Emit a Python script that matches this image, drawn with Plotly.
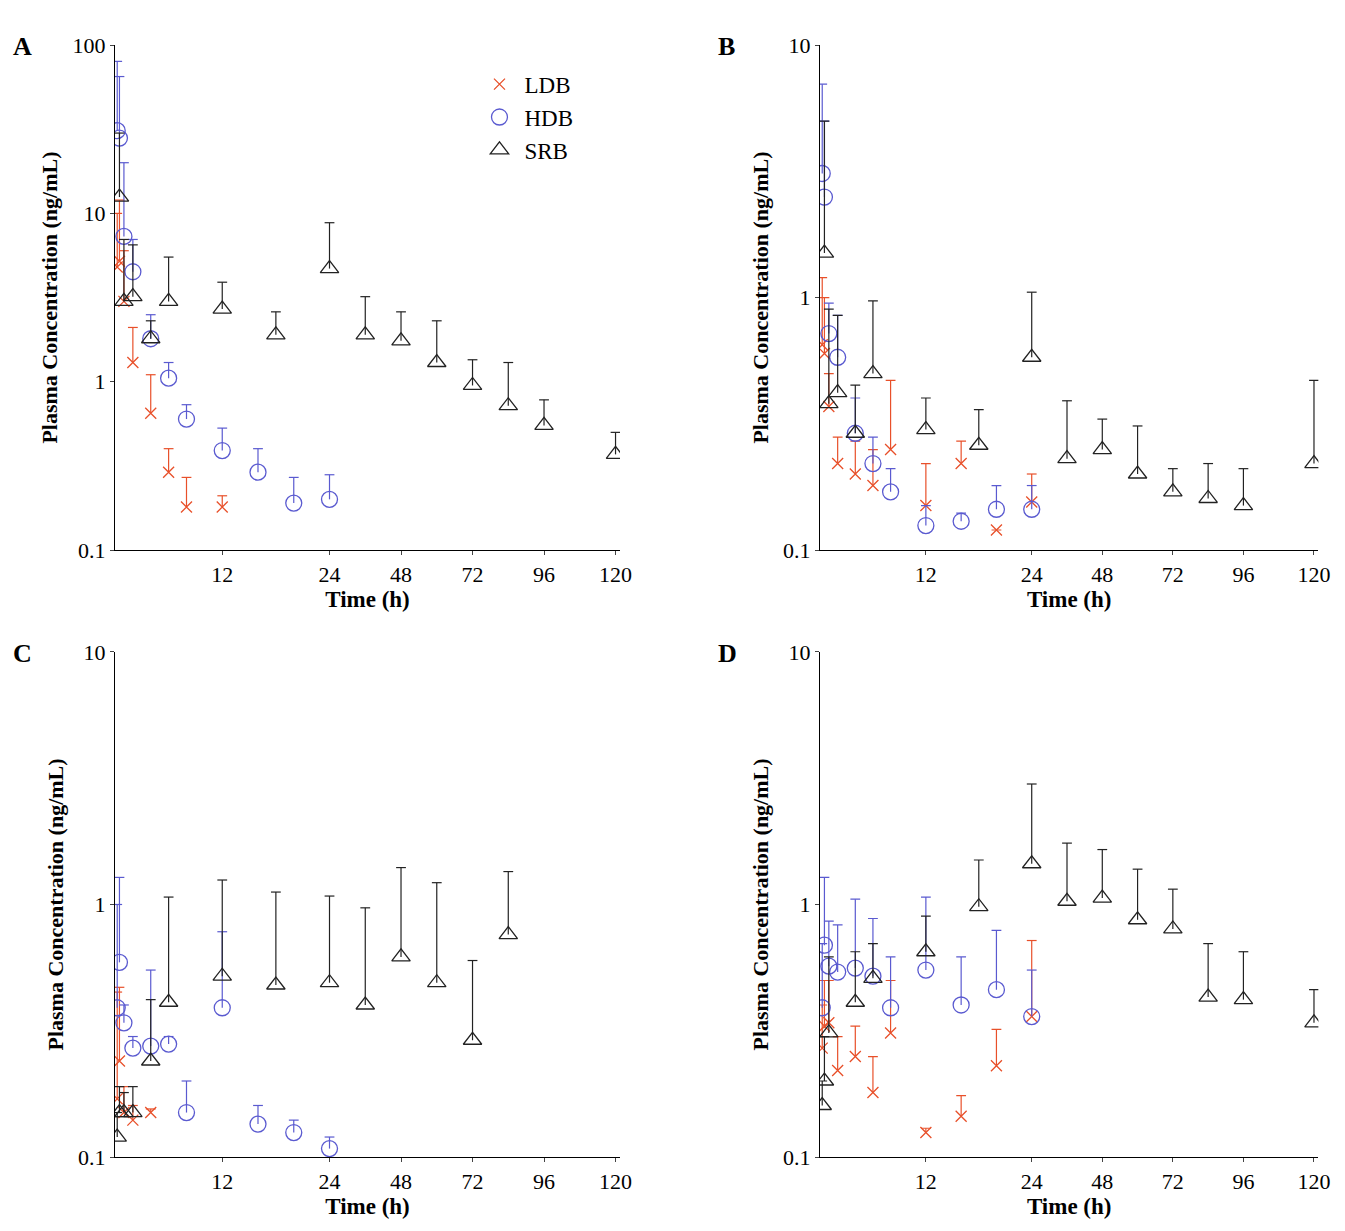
import plotly.graph_objs as go

# sampling times (h)
T_DENSE = [0.25, 0.5, 1, 2, 4, 6, 8, 12, 16, 20, 24]
T_SRB = [0.5, 1, 2, 4, 6, 12, 18, 24, 36, 48, 60, 72, 84, 96, 120]

# panel A
A_LDB_T = [0.25, 0.5, 1, 2, 4, 6, 8, 12]
A_LDB_Y = [4.8, 5.2, 3.0, 1.3, 0.65, 0.29, 0.18, 0.18]
A_LDB_TOP = [10, 12, 6, 2.1, 1.1, 0.4, 0.27, 0.21]
A_HDB_T = [0.25, 0.5, 1, 2, 4, 6, 8, 12, 16, 20, 24]
A_HDB_Y = [31, 28, 7.3, 4.5, 1.8, 1.05, 0.6, 0.39, 0.29, 0.19, 0.2]
A_HDB_TOP = [80, 65, 20, 7, 2.5, 1.3, 0.73, 0.53, 0.4, 0.27, 0.28]
A_SRB_T = [0.5, 1, 2, 4, 6, 12, 18, 24, 36, 48, 60, 72, 84, 96, 120]
A_SRB_Y = [12.5, 3.0, 3.2, 1.8, 3.0, 2.7, 1.9, 4.7, 1.9, 1.75, 1.3, 0.95, 0.72, 0.55, 0.37]
A_SRB_TOP = [30, 7, 6.5, 2.3, 5.5, 3.9, 2.6, 8.8, 3.2, 2.6, 2.3, 1.35, 1.3, 0.78, 0.5]

# panel B
B_LDB_T = T_DENSE
B_LDB_Y = [0.65, 0.6, 0.37, 0.22, 0.2, 0.18, 0.25, 0.15, 0.22, 0.12, 0.155]
B_LDB_TOP = [1.2, 1.0, 0.5, 0.28, 0.27, 0.25, 0.47, 0.22, 0.27, 0.12, 0.2]
B_HDB_T = T_DENSE
B_HDB_Y = [3.1, 2.5, 0.72, 0.58, 0.29, 0.22, 0.17, 0.125, 0.13, 0.145, 0.145]
B_HDB_TOP = [7, 5, 0.95, 0.85, 0.4, 0.28, 0.21, 0.15, 0.14, 0.18, 0.18]
B_SRB_T = T_SRB
B_SRB_Y = [1.5, 0.38, 0.42, 0.29, 0.5, 0.3, 0.26, 0.58, 0.23, 0.25, 0.2, 0.17, 0.16, 0.15, 0.22]
B_SRB_TOP = [5, 0.9, 0.85, 0.45, 0.97, 0.4, 0.36, 1.05, 0.39, 0.33, 0.31, 0.21, 0.22, 0.21, 0.47]

# panel C
C_LDB_T = [0.25, 0.5, 1, 2, 4]
C_LDB_Y = [0.17, 0.24, 0.15, 0.14, 0.15]
C_LDB_TOP = [0.45, 0.47, 0.19, 0.16, 0.155]
C_HDB_T = T_DENSE
C_HDB_Y = [0.39, 0.59, 0.34, 0.27, 0.275, 0.28, 0.15, 0.39, 0.135, 0.125, 0.108]
C_HDB_TOP = [1.0, 1.28, 0.4, 0.3, 0.55, 0.3, 0.2, 0.78, 0.16, 0.14, 0.12]
C_SRB_T = [0.25, 0.5, 1, 2, 4, 6, 12, 18, 24, 36, 48, 60, 72, 84]
C_SRB_Y = [0.12, 0.15, 0.15, 0.15, 0.24, 0.41, 0.52, 0.48, 0.49, 0.4, 0.62, 0.49, 0.29, 0.76]
C_SRB_TOP = [0.15, 0.19, 0.18, 0.19, 0.42, 1.07, 1.25, 1.12, 1.08, 0.97, 1.4, 1.22, 0.6, 1.35]

# panel D
D_LDB_T = T_DENSE
D_LDB_Y = [0.27, 0.33, 0.34, 0.22, 0.25, 0.18, 0.31, 0.125, 0.145, 0.23, 0.36]
D_LDB_TOP = [0.4, 0.5, 0.5, 0.3, 0.33, 0.25, 0.5, 0.13, 0.175, 0.32, 0.72]
D_HDB_T = T_DENSE
D_HDB_Y = [0.39, 0.69, 0.57, 0.54, 0.56, 0.52, 0.39, 0.55, 0.4, 0.46, 0.36]
D_HDB_TOP = [0.7, 1.28, 0.86, 0.83, 1.05, 0.88, 0.62, 1.07, 0.62, 0.79, 0.55]
D_SRB_T = [0.25, 0.5, 1, 4, 6, 12, 18, 24, 36, 48, 60, 72, 84, 96, 120]
D_SRB_Y = [0.16, 0.2, 0.31, 0.41, 0.51, 0.65, 0.98, 1.45, 1.03, 1.06, 0.87, 0.8, 0.43, 0.42, 0.34]
D_SRB_TOP = [0.2, 0.3, 0.62, 0.65, 0.7, 0.9, 1.5, 3.0, 1.75, 1.65, 1.38, 1.15, 0.7, 0.65, 0.46]

X_TICKS = [12, 24, 48, 72, 96, 120]


def warp(t):
    # 0-24 h linear, after 24 h compressed 3x
    return t if t <= 24 else 24 + (t - 24) / 3.0


FONT = 'Liberation Serif'
RED = '#e8502a'
BLUE = '#5a5ad0'
BLACK = '#222222'

panels = [
    ('A', 1, (A_LDB_T, A_LDB_Y, A_LDB_TOP), (A_HDB_T, A_HDB_Y, A_HDB_TOP), (A_SRB_T, A_SRB_Y, A_SRB_TOP), 100),
    ('B', 2, (B_LDB_T, B_LDB_Y, B_LDB_TOP), (B_HDB_T, B_HDB_Y, B_HDB_TOP), (B_SRB_T, B_SRB_Y, B_SRB_TOP), 10),
    ('C', 3, (C_LDB_T, C_LDB_Y, C_LDB_TOP), (C_HDB_T, C_HDB_Y, C_HDB_TOP), (C_SRB_T, C_SRB_Y, C_SRB_TOP), 10),
    ('D', 4, (D_LDB_T, D_LDB_Y, D_LDB_TOP), (D_HDB_T, D_HDB_Y, D_HDB_TOP), (D_SRB_T, D_SRB_Y, D_SRB_TOP), 10),
]

# the page body has an 8px margin, so the figure is sized to fit inside it
W, H = 1329, 1215
xdom = {1: [0.0805, 0.4605], 2: [0.611, 0.986], 3: [0.0805, 0.4605], 4: [0.611, 0.986]}
ydom = {1: [0.5539, 0.9695], 2: [0.5539, 0.9695], 3: [0.0543, 0.4700], 4: [0.0543, 0.4700]}

series_style = [
    ('LDB', RED, 'x-thin-open', 11),
    ('HDB', BLUE, 'circle-open', 16),
    ('SRB', BLACK, 'triangle-up-open', 16),
]

fig = go.Figure()
layout = dict(width=W, height=H,
              margin=dict(l=0, r=0, t=0, b=0, autoexpand=False),
              plot_bgcolor='white', paper_bgcolor='white',
              font=dict(family=FONT, size=22, color='black'),
              annotations=[])

for letter, n, ldb, hdb, srb, ymax in panels:
    sfx = '' if n == 1 else str(n)
    for (name, color, sym, size), (t, y, top) in zip(series_style, [ldb, hdb, srb]):
        xs = [warp(v) for v in t]
        # upper error bars as line segments
        bx, by = [], []
        for xv, yv, tv in zip(xs, y, top):
            bx += [xv, xv, None]
            by += [yv, tv, None]
        fig.add_trace(go.Scatter(x=bx, y=by, mode='lines', showlegend=False, hoverinfo='skip',
                                 line=dict(color=color, width=1.2),
                                 xaxis='x' + sfx, yaxis='y' + sfx))
        fig.add_trace(go.Scatter(x=xs, y=top, mode='markers', showlegend=False, hoverinfo='skip',
                                 marker=dict(symbol='line-ew', size=7, line=dict(color=color, width=1.2)),
                                 xaxis='x' + sfx, yaxis='y' + sfx))
        fig.add_trace(go.Scatter(
            x=xs, y=y, mode='markers', name=name,
            showlegend=(n == 1), xaxis='x' + sfx, yaxis='y' + sfx,
            marker=dict(symbol=sym, size=size, color=color, line=dict(color=color, width=1.3))))
    yvals = [0.1, 1, 10, 100][:4 if ymax == 100 else 3]
    layout['xaxis' + sfx] = dict(
        domain=xdom[n], anchor='y' + sfx, range=[0, 56.5],
        tickvals=[warp(v) for v in X_TICKS], ticktext=[str(v) for v in X_TICKS],
        showline=True, linecolor='black', linewidth=1.2, ticks='outside', ticklen=4,
        showgrid=False, zeroline=False,
        title=dict(text='<b>Time (h)</b>', font=dict(size=23), standoff=4))
    layout['yaxis' + sfx] = dict(
        domain=ydom[n], anchor='x' + sfx, type='log', range=[-1, 2 if ymax == 100 else 1],
        tickvals=yvals, ticktext=[('%g' % v) for v in yvals],
        showline=True, linecolor='black', linewidth=1.2, ticks='outside', ticklen=4,
        showgrid=False, zeroline=False,
        title=dict(text='<b>Plasma Concentration (ng/mL)</b>', font=dict(size=22), standoff=8))
    layout['annotations'].append(dict(
        text='<b>%s</b>' % letter, xref='paper', yref='paper', showarrow=False,
        x=xdom[n][0] - 0.078, y=ydom[n][1] + 0.012, xanchor='left', yanchor='top',
        font=dict(size=26)))

layout['legend'] = dict(x=0.351, y=0.955, xanchor='left', yanchor='top',
                        bgcolor='rgba(0,0,0,0)', font=dict(size=23), itemwidth=40)
fig.update_layout(**layout)
fig.write_html('out.html')
